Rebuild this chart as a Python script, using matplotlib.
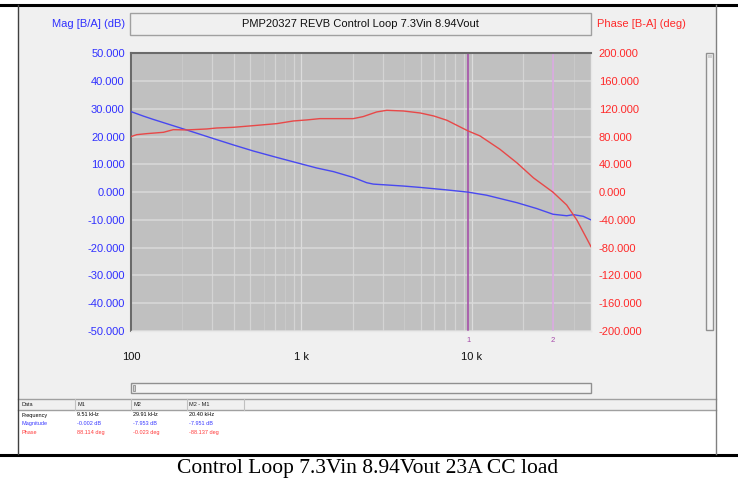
import matplotlib
matplotlib.use("Agg")
import matplotlib.pyplot as plt
from matplotlib.patches import Rectangle
from matplotlib.lines import Line2D

W, H = 738, 478

# Loop gain measurement (frequency in Hz)
freq_mag = [100, 118, 135, 212, 304, 399, 523, 717, 938, 1229, 1540, 2014, 2415,
            2640, 3966, 4982, 7140, 9510, 12200, 18400, 24000, 29910, 36000,
            39400, 45000, 50000]
mag_db = [29.0, 27.4, 26.2, 22.4, 19.3, 17.0, 14.8, 12.5, 10.6, 8.7, 7.4, 5.3, 3.4,
          2.9, 2.2, 1.7, 0.8, -0.002, -1.1, -3.8, -5.9, -7.953, -8.5,
          -8.1, -8.7, -10.0]

freq_ph = [100, 108, 124, 155, 177, 212, 278, 318, 399, 523, 717, 895, 1072, 1283,
           2014, 2300, 2761, 3166, 3966, 4982, 5980, 7140, 9510, 11160, 14600,
           18400, 23000, 29910, 36000, 41300, 50000]
phase_deg = [80.0, 82.8, 84.3, 86.2, 90.0, 89.6, 91.0, 92.4, 93.4, 95.8, 98.7, 102.5,
             104.0, 105.9, 105.9, 108.8, 115.5, 117.9, 116.9, 114.0, 109.7, 103.5,
             88.114, 81.0, 61.8, 42.1, 20.5, -0.023, -18.5, -40.1, -78.5]

markers = {"1": 9510, "2": 29910}
marker_colors = {"1": "#a448a8", "2": "#dca6e4"}

mag_ticks = list(range(-50, 51, 10))
phase_ticks = list(range(-200, 201, 40))
x_major = [100, 1000, 10000]
x_major_labels = ["100", "1 k", "10 k"]
# frequency grid lines (strong ones and faint ones)
grid_strong = [300, 400, 500, 700, 900, 2000, 3000, 5000, 6000, 7000, 8000, 9000, 20000]
grid_faint = [200, 600, 800, 4000, 30000, 40000]

table_header = ["Data", "M1", "M2", "M2 - M1"]
table_rows = [
    ("Frequency", ["9.51 kHz", "29.91 kHz", "20.40 kHz"], "#000000"),
    ("Magnitude", ["-0.002 dB", "-7.953 dB", "-7.951 dB"], "#3a3aff"),
    ("Phase", ["88.114 deg", "-0.023 deg", "-88.137 deg"], "#ff3a3a"),
]

caption = "Control Loop 7.3Vin 8.94Vout 23A CC load"
title = "PMP20327 REVB Control Loop 7.3Vin 8.94Vout"

BLUE = "#3030ff"
RED = "#ff2a2a"
UI_FONT = ["Liberation Sans", "DejaVu Sans"]
UI_SIZE = 8.0

fig = plt.figure(figsize=(W / 100, H / 100), dpi=100)
fig.patch.set_facecolor("white")


def px_box(x0, y0, x1, y1):
    return [x0 / W, 1 - y1 / H, (x1 - x0) / W, (y1 - y0) / H]


# Background overlay for window chrome
bg = fig.add_axes([0, 0, 1, 1])
bg.set_xlim(0, W)
bg.set_ylim(H, 0)
bg.axis("off")

bg.add_patch(Rectangle((18, 6), 698, 393, facecolor="#f0f0f0", edgecolor="none"))
bg.add_patch(Rectangle((18, 399), 698, 55, facecolor="white", edgecolor="none"))
bg.add_patch(Rectangle((18, 399), 698, 11, facecolor="#f0f0f0", edgecolor="none"))
bg.add_line(Line2D([18, 716], [399, 399], color="#a0a0a0", lw=1))
bg.add_line(Line2D([18, 716], [410, 410], color="#a0a0a0", lw=1))
for cx in [75, 131, 187, 244]:
    bg.add_line(Line2D([cx, cx], [399, 410], color="#c0c0c0", lw=0.8))
bg.add_line(Line2D([0, W], [4.5, 4.5], color="black", lw=2.2))
bg.add_line(Line2D([0, W], [454.5, 454.5], color="black", lw=2.2))
bg.add_line(Line2D([18, 18], [5, 454], color="#404040", lw=1))
bg.add_line(Line2D([716, 716], [5, 454], color="#808080", lw=1))

# Title box
bg.add_patch(Rectangle((130, 13), 461, 22, facecolor="#f0f0f0", edgecolor="#a0a0a0", lw=1))
bg.text(360.5, 23.5, title, ha="center", va="center", fontsize=UI_SIZE, family=UI_FONT, color="#101010")
bg.text(125, 23.5, "Mag [B/A] (dB)", ha="right", va="center", fontsize=UI_SIZE, family=UI_FONT, color=BLUE)
bg.text(597, 23.5, "Phase [B-A] (deg)", ha="left", va="center", fontsize=UI_SIZE, family=UI_FONT, color=RED)

# Scroll bars
bg.add_patch(Rectangle((131, 383), 460, 10, facecolor="#f4f4f4", edgecolor="#909090", lw=1))
bg.add_patch(Rectangle((133, 385), 2, 6, facecolor="#d0d0d0", edgecolor="#909090", lw=0.6))
bg.add_patch(Rectangle((706, 53), 7, 277, facecolor="#f4f4f4", edgecolor="#909090", lw=1))
bg.add_patch(Rectangle((707.5, 54.5), 4, 3, facecolor="#d0d0d0", edgecolor="none"))

# Data table
col_x = [21, 77, 133, 189]
for cx, txt in zip(col_x, table_header):
    bg.text(cx, 404.8, txt, ha="left", va="center", fontsize=4, family=UI_FONT, color="#202020")
for i, (name, vals, col) in enumerate(table_rows):
    yy = 415 + i * 8.6
    bg.text(21, yy, name, ha="left", va="center", fontsize=4, family=UI_FONT, color=col)
    for cx, v in zip(col_x[1:], vals):
        bg.text(cx, yy, v, ha="left", va="center", fontsize=4, family=UI_FONT, color=col)

bg.text(368, 468, caption, ha="center", va="center", fontsize=15.5,
        family=["Liberation Serif", "DejaVu Serif"], color="black")

# Main Bode plot
ax = fig.add_axes(px_box(131, 53.3, 591, 331))
ax.set_facecolor("#c0c0c0")
ax.set_xscale("log")
ax.set_xlim(100, 50000)
ax.set_ylim(-50, 50)

# grid
for p in grid_faint:
    ax.axvline(p, color="#c9c9c9", lw=0.8, zorder=1)
for p in grid_strong:
    ax.axvline(p, color="#d4d4d4", lw=0.9, zorder=1)
for p in x_major:
    ax.axvline(p, color="#dcdcdc", lw=0.9, zorder=1)
for t in mag_ticks:
    ax.axhline(t, color="#dadada", lw=1.1, zorder=1)

# marker cursors
for key, f in markers.items():
    ax.axvline(f, color=marker_colors[key], lw=1.1, zorder=2)
    ax.annotate(key, xy=(f, 0), xycoords=("data", "axes fraction"), xytext=(0, -6.5),
                textcoords="offset points", ha="center", va="center",
                fontsize=5.5, color="#a448a8", family=UI_FONT, annotation_clip=False)

ax.plot(freq_mag, mag_db, color="#4848f0", lw=1.0, zorder=4)

ax.set_yticks(mag_ticks)
ax.set_yticklabels([f"{t:.3f}" for t in mag_ticks])
ax.tick_params(axis="y", length=0, pad=4.5, labelcolor=BLUE, labelsize=UI_SIZE)
ax.set_xticks(x_major)
ax.set_xticklabels(x_major_labels)
ax.xaxis.set_minor_locator(matplotlib.ticker.NullLocator())
ax.tick_params(axis="x", length=0, pad=15, labelcolor="#101010", labelsize=UI_SIZE)
for lab in ax.get_yticklabels() + ax.get_xticklabels():
    lab.set_family(UI_FONT)

for side in ["top", "left"]:
    ax.spines[side].set_color("#6a6a6a")
    ax.spines[side].set_linewidth(1.5)
for side in ["bottom", "right"]:
    ax.spines[side].set_color("#e8e8e8")
    ax.spines[side].set_linewidth(1.0)

ax2 = ax.twinx()
ax2.set_ylim(-200, 200)
ax2.plot(freq_ph, phase_deg, color="#e84848", lw=1.0, zorder=4)
ax2.set_yticks(phase_ticks)
ax2.set_yticklabels([f"{t:.3f}" for t in phase_ticks])
ax2.tick_params(axis="y", length=0, pad=5.5, labelcolor=RED, labelsize=UI_SIZE)
for lab in ax2.get_yticklabels():
    lab.set_family(UI_FONT)
for s in ax2.spines.values():
    s.set_visible(False)

fig.savefig("out.png", dpi=100, facecolor=fig.get_facecolor())
